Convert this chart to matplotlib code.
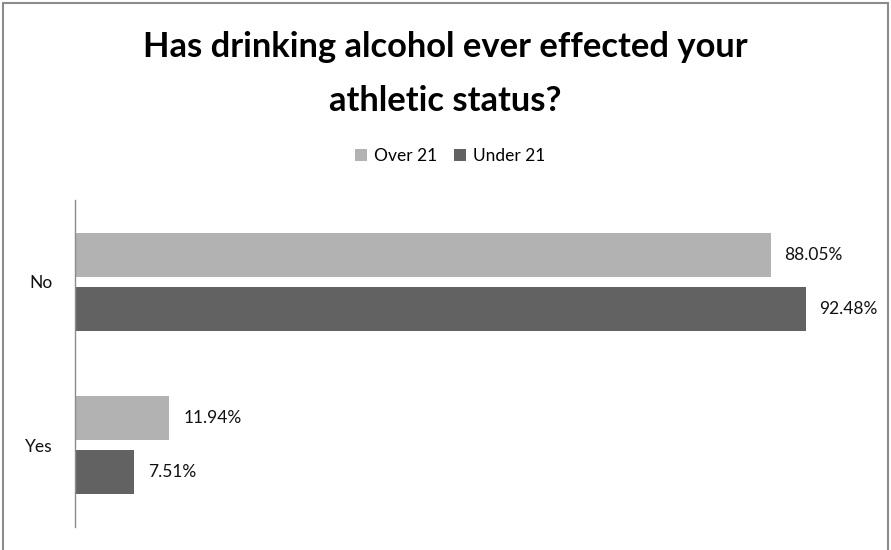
import matplotlib
matplotlib.use("Agg")
import matplotlib.pyplot as plt
import numpy as np
from matplotlib.patches import Patch, Rectangle

categories = ["Yes", "No"]
over_21 = [11.94, 88.05]
under_21 = [7.51, 92.48]
series_names = ["Over 21", "Under 21"]
title_lines = ["Has drinking alcohol ever effected your", "athletic status?"]

LIGHT = "#B2B2B2"
DARK = "#626262"

plt.rcParams["font.family"] = ["Lato", "DejaVu Sans"]

fig = plt.figure(figsize=(8.91, 5.5), dpi=100)
# gray chart frame like the spreadsheet export
fig.patches.append(Rectangle((3 / 891, -0.01), 885 / 891, 1 - 3 / 550 + 0.01,
                             transform=fig.transFigure, fill=False,
                             edgecolor="#8C8C8C", linewidth=1.5))

ax = fig.add_axes([75 / 891, 1 - 527 / 550, 790 / 891, 327 / 550])

y = np.arange(len(categories))
h = 0.268
off = 0.165
b1 = ax.barh(y + off, over_21, height=h, color=LIGHT)
b2 = ax.barh(y - off, under_21, height=h, color=DARK)

for bars, vals in ((b1, over_21), (b2, under_21)):
    for bar, v in zip(bars, vals):
        ax.annotate(f"{v:.2f}%", (bar.get_width(), bar.get_y() + bar.get_height() / 2),
                    xytext=(10, 0), textcoords="offset points",
                    ha="left", va="center", fontsize=12.5, color="#111111")

ax.set_xlim(0, 100)
ax.set_ylim(-0.5, 1.5)
ax.set_yticks(y)
ax.set_yticklabels(categories, fontsize=12.5, color="#111111")
ax.tick_params(axis="y", length=0, pad=16)
ax.set_xticks([])
for side in ("top", "right", "bottom"):
    ax.spines[side].set_visible(False)
ax.spines["left"].set_color("#8C8C8C")
ax.spines["left"].set_linewidth(1.0)

fig.text(445 / 891, 1 - 57 / 550, title_lines[0], ha="center", va="baseline",
         fontsize=24.8, fontweight="bold", color="#000000")
fig.text(445 / 891, 1 - 111 / 550, title_lines[1], ha="center", va="baseline",
         fontsize=24.8, fontweight="bold", color="#000000")

handles = [Patch(facecolor=LIGHT, edgecolor="none"), Patch(facecolor=DARK, edgecolor="none")]
fig.legend(handles, series_names, loc="center", bbox_to_anchor=(450 / 891, 1 - 156 / 550),
           ncol=2, frameon=False, fontsize=12.5, handlelength=0.7, handleheight=0.7,
           handletextpad=0.4, columnspacing=1.0)

fig.savefig("out.png", dpi=100)
